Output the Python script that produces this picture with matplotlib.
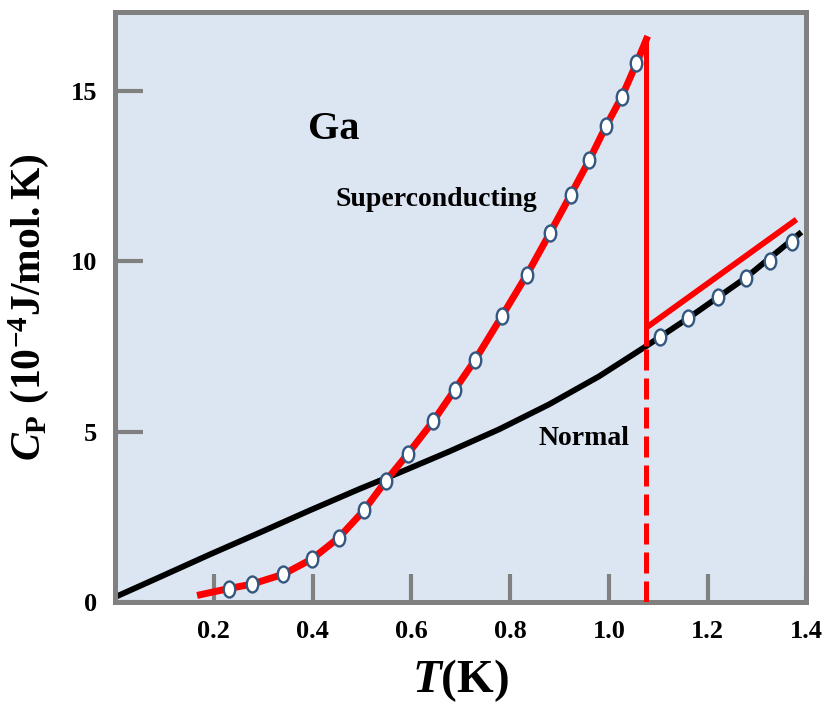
import matplotlib
matplotlib.use('Agg')
import matplotlib.pyplot as plt
from matplotlib.path import Path
from matplotlib.transforms import Affine2D

plt.rcParams['font.family'] = 'Liberation Serif'
plt.rcParams['font.weight'] = 'bold'
plt.rcParams['mathtext.fontset'] = 'custom'
plt.rcParams['mathtext.rm'] = 'Liberation Serif:bold'
plt.rcParams['mathtext.it'] = 'Liberation Serif:italic:bold'
plt.rcParams['mathtext.bf'] = 'Liberation Serif:bold'

# measured points, superconducting state
T_sc = [0.230, 0.277, 0.341, 0.399, 0.453, 0.504, 0.548, 0.593, 0.644, 0.688,
        0.729, 0.784, 0.834, 0.881, 0.923, 0.960, 0.994, 1.026, 1.056]
C_sc = [0.40, 0.53, 0.82, 1.27, 1.89, 2.69, 3.55, 4.35, 5.30, 6.23,
        7.10, 8.40, 9.60, 10.83, 11.95, 12.95, 13.95, 14.81, 15.80]

# measured points, normal state (above Tc)
T_n = [1.103, 1.160, 1.221, 1.277, 1.327, 1.370]
C_n = [7.78, 8.32, 8.95, 9.51, 10.00, 10.57]

# fitted curves
T_sc_fit = [0.173] + T_sc + [1.076]
C_sc_fit = [0.22] + C_sc + [16.5]
T_norm = [0.0, 0.091, 0.192, 0.293, 0.394, 0.495, 0.576, 0.677, 0.778, 0.879,
          0.980, 1.077, 1.160, 1.277, 1.390]
C_norm = [0.15, 0.74, 1.40, 2.04, 2.69, 3.32, 3.80, 4.42, 5.07, 5.80,
          6.62, 7.52, 8.32, 9.51, 10.85]
T_c = 1.076
C_jump = [7.52, 16.5]
T_red_n = [1.076, 1.38]
C_red_n = [8.05, 11.22]

x_ticks = [0.2, 0.4, 0.6, 0.8, 1.0, 1.2, 1.4]
y_ticks = [0, 5, 10, 15]

red = '#ff0000'
gray = '#808080'
ellipse = Path.unit_circle().transformed(Affine2D().scale(0.72, 1.0))

fig = plt.figure(figsize=(8.24, 7.11), dpi=100)
ax = fig.add_axes([0.1396, 0.153, 0.839, 0.830])
ax.set_facecolor('#dce6f2')

ax.plot(T_norm, C_norm, color='black', lw=4.2, solid_capstyle='butt', zorder=2)
ax.plot(T_sc_fit, C_sc_fit, color=red, lw=5, solid_joinstyle='miter', zorder=3)
ax.plot([T_c, T_c], C_jump, color=red, lw=3.6, solid_capstyle='butt', zorder=3)
ax.plot([T_c, T_c], [0, C_jump[0]], color=red, lw=3.6, ls=(0, (4.2, 1.6)), zorder=3)
ax.plot(T_red_n, C_red_n, color=red, lw=4.2, solid_capstyle='butt', zorder=3)

mk = dict(ls='none', marker=ellipse, ms=11.5, mfc='white', mec='#34577f', mew=1.7, zorder=4)
ax.plot(T_sc, C_sc, **mk)
ax.plot(T_n, C_n, **mk)

ax.text(0.443, 13.85, 'Ga', fontsize=29, ha='center', va='center')
ax.text(0.650, 11.8, 'Superconducting', fontsize=20, ha='center', va='center')
ax.text(0.950, 4.8, 'Normal', fontsize=20, ha='center', va='center')

ax.set_xlim(0, 1.4)
ax.set_ylim(0, 17.3)
ax.set_xticks(x_ticks)
ax.set_yticks(y_ticks)
ax.set_xticklabels(['%.1f' % t for t in x_ticks])
ax.tick_params(direction='in', length=20, width=3, color=gray, labelsize=19, pad=13)
for s in ax.spines.values():
    s.set_color(gray)
    s.set_linewidth(3.6)

ax.set_xlabel(r'$T\mathbf{(K)}$', fontsize=34, labelpad=10)
ax.set_ylabel(r'$C_{\mathbf{P}}\ \mathbf{(10^{-4}J/mol.K)}$', fontsize=30, labelpad=14)

fig.savefig('out.png', dpi=100)
